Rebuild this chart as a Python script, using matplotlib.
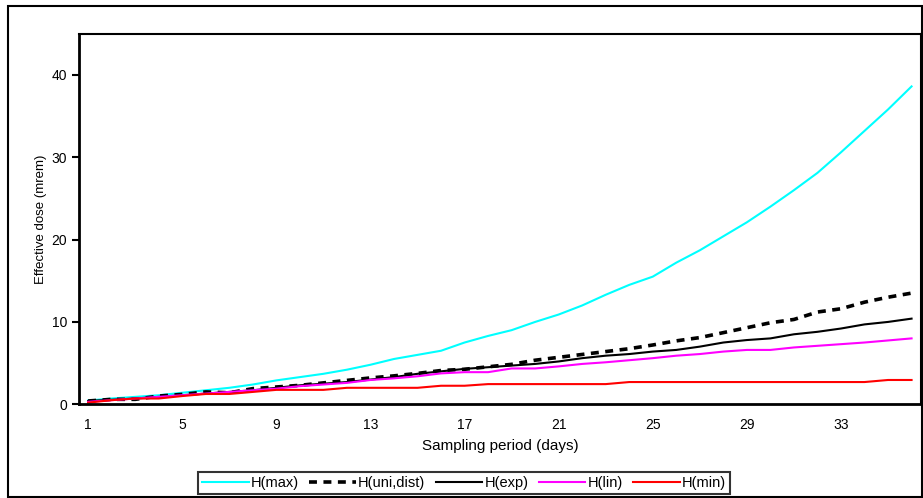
import numpy as np
import matplotlib
matplotlib.use("Agg")
import matplotlib.pyplot as plt
from matplotlib.patches import Rectangle

plt.rcParams['font.family'] = ['Liberation Sans', 'DejaVu Sans']

days = list(range(1, 37))
xticks = [1, 5, 9, 13, 17, 21, 25, 29, 33]

h_max = [0.45, 0.7, 0.9, 1.1, 1.4, 1.7, 2.0, 2.4, 2.9, 3.3, 3.7, 4.2,
         4.8, 5.5, 6.0, 6.5, 7.5, 8.3, 9.0, 10.0, 10.9, 12.0, 13.3, 14.5,
         15.5, 17.2, 18.7, 20.4, 22.1, 24.0, 26.0, 28.1, 30.6, 33.2, 35.8, 38.6]
h_uni = [0.4, 0.6, 0.6, 1.0, 1.2, 1.5, 1.4, 1.9, 2.1, 2.3, 2.6, 2.9,
         3.2, 3.45, 3.75, 4.1, 4.25, 4.55, 4.85, 5.35, 5.7, 6.05, 6.4, 6.75,
         7.2, 7.7, 8.1, 8.7, 9.3, 9.9, 10.3, 11.2, 11.6, 12.4, 13.0, 13.5]
h_exp = [0.4, 0.55, 0.7, 0.9, 1.1, 1.3, 1.5, 1.7, 2.0, 2.3, 2.5, 2.7,
         3.0, 3.3, 3.7, 4.0, 4.3, 4.5, 4.7, 4.9, 5.2, 5.6, 5.9, 6.1,
         6.4, 6.6, 7.0, 7.5, 7.8, 8.0, 8.5, 8.8, 9.2, 9.7, 10.0, 10.4]
h_lin = [0.3, 0.5, 0.7, 0.9, 1.1, 1.3, 1.5, 1.7, 1.9, 2.2, 2.4, 2.6,
         2.95, 3.15, 3.4, 3.75, 3.9, 3.9, 4.35, 4.35, 4.6, 4.9, 5.1, 5.35,
         5.6, 5.9, 6.1, 6.4, 6.6, 6.6, 6.9, 7.1, 7.3, 7.5, 7.75, 8.0]
h_min = [0.2, 0.5, 0.7, 0.7, 1.0, 1.25, 1.25, 1.5, 1.75, 1.75, 1.75, 2.0,
         2.0, 2.0, 2.0, 2.25, 2.25, 2.45, 2.45, 2.45, 2.45, 2.45, 2.45, 2.7,
         2.7, 2.7, 2.7, 2.7, 2.7, 2.7, 2.7, 2.7, 2.7, 2.7, 2.95, 2.95]

fig = plt.figure(figsize=(9.23, 4.98), dpi=100)
# outer frame around the whole chart
fig.patches.append(Rectangle((8 / 923, 1 - 497 / 498), 914 / 923, 491 / 498,
                             transform=fig.transFigure, fill=False,
                             edgecolor='black', linewidth=1.5))

ax = fig.add_axes([0.0853, 0.1882, 0.9125, 0.7441])
ax.plot(days, h_max, color='#00FFFF', lw=1.5, label='H(max)')
ax.plot(days, h_uni, color='black', lw=2.6, linestyle=(0, (2.2, 1.8)), label='H(uni,dist)')
ax.plot(days, h_exp, color='black', lw=1.5, label='H(exp)')
ax.plot(days, h_lin, color='#FF00FF', lw=1.5, label='H(lin)')
ax.plot(days, h_min, color='#FF0000', lw=1.5, label='H(min)')

ax.set_xlim(0.6, 36.4)
ax.set_ylim(0, 45)
ax.set_xticks(xticks)
ax.set_yticks([0, 10, 20, 30, 40])
ax.tick_params(axis='x', length=0, pad=10, labelsize=10)
ax.tick_params(axis='y', length=5, width=1.5, direction='out', labelsize=10)
for side in ['left', 'bottom']:
    ax.spines[side].set_linewidth(2)
for side in ['top', 'right']:
    ax.spines[side].set_linewidth(1.5)
ax.set_xlabel('Sampling period (days)', fontsize=11, labelpad=5)
ax.set_ylabel('Effective dose (mrem)', fontsize=9.5, labelpad=3)

leg = fig.legend(loc='center', bbox_to_anchor=(464 / 923, 1 - 483 / 498), ncol=5,
                 fontsize=10.5, frameon=True, fancybox=False, handlelength=3.2,
                 handletextpad=0.15, columnspacing=0.7, borderpad=0.3)
leg.get_frame().set_edgecolor('black')
leg.get_frame().set_linewidth(1.5)

fig.savefig('out.png', dpi=100)
